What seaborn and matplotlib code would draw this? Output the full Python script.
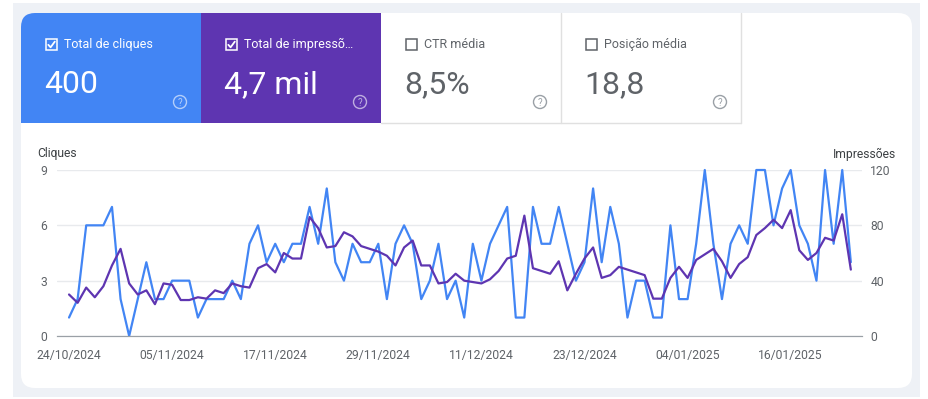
import numpy as np
import pandas as pd
import seaborn as sns
import matplotlib
matplotlib.use("Agg")
import matplotlib.pyplot as plt
from matplotlib.patches import Rectangle, FancyBboxPatch, Circle
from matplotlib.lines import Line2D

# Daily data (24/10/2024 .. 23/01/2025)
start_date = "2024-10-24"
clicks = [1, 2, 6, 6, 6, 7, 2, 0, 2, 4,
          2, 2, 3, 3, 3, 1, 2, 2, 2, 3,
          2, 5, 6, 4, 5, 4, 5, 5, 7, 5,
          8, 4, 3, 5, 4, 4, 5, 2, 5, 6,
          5, 2, 3, 5, 2, 3, 1, 5, 3, 5,
          6, 7, 1, 1, 7, 5, 5, 7, 5, 3,
          4, 8, 4, 7, 5, 1, 3, 3, 1, 1,
          6, 2, 2, 5, 9, 5, 2, 5, 6, 5,
          9, 9, 6, 8, 9, 6, 5, 3, 9, 5, 9, 4]
impressions = [30, 24, 35, 28, 36, 51, 63, 38, 30, 33,
               23, 38, 37, 26, 26, 28, 27, 33, 31, 38,
               36, 35, 49, 52, 46, 60, 56, 56, 86, 78,
               64, 65, 75, 72, 65, 63, 61, 58, 51, 64,
               69, 51, 51, 38, 39, 45, 40, 39, 38, 41,
               47, 56, 58, 87, 49, 47, 45, 54, 33, 45,
               56, 64, 42, 44, 50, 48, 46, 44, 27, 27,
               42, 50, 42, 55, 59, 63, 54, 42, 52, 57,
               73, 78, 84, 78, 91, 62, 55, 60, 71, 69, 88, 48]
dates = pd.date_range(start_date, periods=len(clicks), freq="D")
df = pd.DataFrame({"date": dates, "clicks": clicks, "impressions": impressions})

# summary tiles
tile_labels = ["Total de cliques", "Total de impressõ…", "CTR média", "Posição média"]
tile_values = ["400", "4,7 mil", "8,5%", "18,8"]
tile_checked = [True, True, False, False]

click_ticks = [0, 3, 6, 9]
impr_ticks = [0, 40, 80, 120]

BLUE = "#4285f4"
PURPLE = "#5e35b1"
GREY_TXT = "#5f6368"

sns.set_style("white")
plt.rcParams["font.family"] = ["Roboto", "DejaVu Sans"]

W, H = 929, 399
fig = plt.figure(figsize=(W / 100, H / 100), dpi=100)
fig.patch.set_facecolor("white")

# background layer in pixel coordinates
bg = fig.add_axes([0, 0, 1, 1])
bg.set_xlim(0, W)
bg.set_ylim(H, 0)
bg.axis("off")

bg.add_patch(Rectangle((13, 3), 907, 394, facecolor="#eef1f6", edgecolor="none"))
bg.add_patch(FancyBboxPatch((21, 13), 891, 375, boxstyle="round,pad=0,rounding_size=14",
                            facecolor="white", edgecolor="none"))

tile_colors = [BLUE, PURPLE, "white", "white"]
for i, (lab, val, chk, col) in enumerate(zip(tile_labels, tile_values, tile_checked, tile_colors)):
    x0 = 21 + i * 180
    if i == 0:
        bg.add_patch(FancyBboxPatch((x0, 13), 180, 110, boxstyle="round,pad=0,rounding_size=14",
                                    facecolor=col, edgecolor="none"))
        bg.add_patch(Rectangle((x0 + 14, 13), 166, 110, facecolor=col, edgecolor="none"))
        bg.add_patch(Rectangle((x0, 27), 180, 96, facecolor=col, edgecolor="none"))
    else:
        bg.add_patch(Rectangle((x0, 13), 180, 110, facecolor=col, edgecolor="none"))
    fg = "white" if chk else GREY_TXT
    # checkbox
    bx = x0 + 25
    bg.add_patch(Rectangle((bx, 39), 11, 11, facecolor="none", edgecolor=fg, linewidth=1.1))
    if chk:
        bg.add_line(Line2D([bx + 2.3, bx + 4.6, bx + 8.8], [44.8, 47.3, 41.6], color=fg, linewidth=1.3))
    bg.text(x0 + 43, 44.5, lab, color=fg, fontsize=9, va="center", ha="left")
    bg.text(x0 + 23, 93, val, color=fg, fontsize=23, va="baseline", ha="left")
    # help icon
    icol = (1, 1, 1, 0.6) if chk else "#9aa0a6"
    bg.add_patch(Circle((x0 + 159, 102), 6.5, facecolor="none", edgecolor=icol, linewidth=1.0))
    bg.text(x0 + 159, 102.5, "?", color=icol, fontsize=7, ha="center", va="center")

# tile borders
bg.add_line(Line2D([381, 741], [123, 123], color="#e0e0e0", linewidth=1))
for xb in (561, 741):
    bg.add_line(Line2D([xb, xb], [13, 123], color="#e0e0e0", linewidth=1))

# chart axes
ax = fig.add_axes([57 / W, 1 - 336 / H, (862 - 57) / W, (336 - 170) / H])
ax.patch.set_alpha(0)
sns.lineplot(data=df, x="date", y="clicks", ax=ax, color=BLUE, linewidth=1.6)
ax2 = ax.twinx()
sns.lineplot(data=df, x="date", y="impressions", ax=ax2, color=PURPLE, linewidth=1.6)
for line in ax.lines + ax2.lines:
    line.set_clip_on(False)

ax.set_xlim(dates[0] - pd.Timedelta(days=1.4), dates[-1] + pd.Timedelta(days=1.3))
ax.set_ylim(0, 9)
ax2.set_ylim(0, 120)
ax.set_yticks(click_ticks)
ax2.set_yticks(impr_ticks)
ax.set_xticks(dates[::12])
ax.set_xticklabels([d.strftime("%d/%m/%Y") for d in dates[::12]])
ax.grid(axis="y", color="#e8eaed", linewidth=1)
ax.set_axisbelow(True)

for a in (ax, ax2):
    for s in ("top", "left", "right"):
        a.spines[s].set_visible(False)
    a.spines["bottom"].set_color("#9aa0a6")
    a.set_xlabel("")
    a.set_ylabel("")
    a.tick_params(length=0, labelsize=8.7, labelcolor=GREY_TXT)
ax.tick_params(axis="x", pad=9)
ax.tick_params(axis="y", pad=7)
ax2.tick_params(axis="y", pad=6)

fig.text(37 / W, 1 - 154 / H, "Cliques", fontsize=8.7, color="#3c4043", ha="left", va="center")
fig.text(896 / W, 1 - 154 / H, "Impressões", fontsize=8.7, color="#3c4043", ha="right", va="center")

fig.savefig("out.png", dpi=100)
